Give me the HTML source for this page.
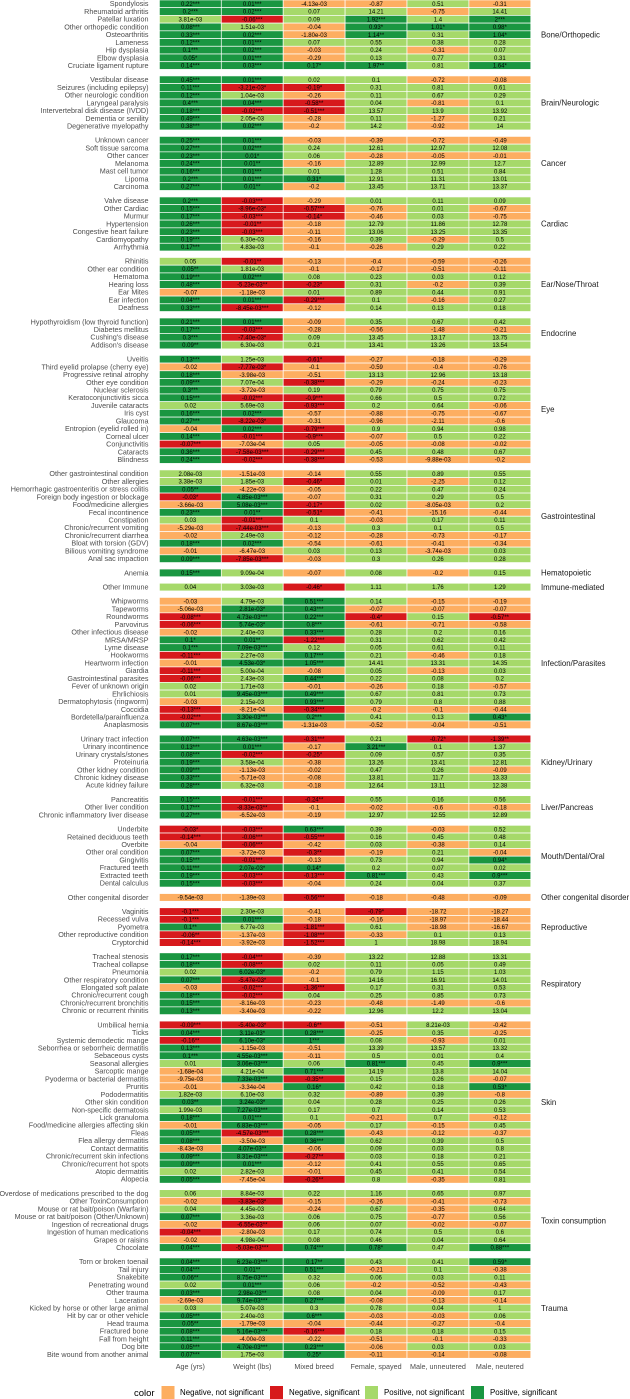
<!DOCTYPE html>
<html lang="en">
<head>
<meta charset="utf-8">
<title>Regression results heatmap</title>
<style>
html,body{margin:0;padding:0;background:#fff;width:630px;height:1399px;overflow:hidden}
svg{display:block;font-family:"Liberation Sans",sans-serif;filter:blur(.3px)}
</style>
</head>
<body>
<svg id="chart" xmlns="http://www.w3.org/2000/svg" width="630" height="1399" viewBox="0 0 630 1399">
  <g id="cells"></g>
  <g id="row-labels"></g>
  <g id="facet-labels"></g>
  <g id="col-labels"></g>
  <g id="legend">
    <text x="134" y="1396" font-size="9.5" fill="#000">color</text>
    <rect x="161.5" y="1386" width="13" height="13" fill="#fdae61"/>
    <text x="180" y="1395" font-size="7.9" fill="#000">Negative, not significant</text>
    <rect x="270" y="1386" width="13" height="13" fill="#d7191c"/>
    <text x="289" y="1395" font-size="7.9" fill="#000">Negative, significant</text>
    <rect x="365" y="1386" width="13" height="13" fill="#a6d96a"/>
    <text x="384" y="1395" font-size="7.9" fill="#000">Positive, not significant</text>
    <rect x="471" y="1386" width="13" height="13" fill="#1a9641"/>
    <text x="490" y="1395" font-size="7.9" fill="#000">Positive, significant</text>
  </g>
</svg>
<script>
const columnLabels = ["Age (yrs)","Weight (lbs)","Mixed breed","Female, spayed","Male, unneutered","Male, neutered"];
const groupNames = ["Bone/Orthopedic","Brain/Neurologic","Cancer","Cardiac","Ear/Nose/Throat","Endocrine","Eye","Gastrointestinal","Hematopoietic","Immune-mediated","Infection/Parasites","Kidney/Urinary","Liver/Pancreas","Mouth/Dental/Oral","Other congenital disorder","Reproductive","Respiratory","Skin","Toxin consumption","Trauma"];
const groupSizes = [9,7,7,7,7,4,14,12,1,1,17,7,3,8,1,5,8,21,8,13];
const rowLabels = [
"Spondylosis","Rheumatoid arthritis","Patellar luxation","Other orthopedic condition","Osteoarthritis","Lameness","Hip dysplasia","Elbow dysplasia","Cruciate ligament rupture",
"Vestibular disease","Seizures (including epilepsy)","Other neurologic condition","Laryngeal paralysis","Intervertebral disk disease (IVDD)","Dementia or senility","Degenerative myelopathy",
"Unknown cancer","Soft tissue sarcoma","Other cancer","Melanoma","Mast cell tumor","Lipoma","Carcinoma",
"Valve disease","Other Cardiac","Murmur","Hypertension","Congestive heart failure","Cardiomyopathy","Arrhythmia",
"Rhinitis","Other ear condition","Hematoma","Hearing loss","Ear Mites","Ear infection","Deafness",
"Hypothyroidism (low thyroid function)","Diabetes mellitus","Cushing's disease","Addison's disease",
"Uveitis","Third eyelid prolapse (cherry eye)","Progressive retinal atrophy","Other eye condition","Nuclear sclerosis","Keratoconjunctivitis sicca","Juvenile cataracts","Iris cyst","Glaucoma","Entropion (eyelid rolled in)","Corneal ulcer","Conjunctivitis","Cataracts","Blindness",
"Other gastrointestinal condition","Other allergies","Hemorrhagic gastroenteritis or stress colitis","Foreign body ingestion or blockage","Food/medicine allergies","Fecal incontinence","Constipation","Chronic/recurrent vomiting","Chronic/recurrent diarrhea","Bloat with torsion (GDV)","Bilious vomiting syndrome","Anal sac impaction",
"Anemia",
"Other Immune",
"Whipworms","Tapeworms","Roundworms","Parvovirus","Other infectious disease","MRSA/MRSP","Lyme disease","Hookworms","Heartworm infection","Giardia","Gastrointestinal parasites","Fever of unknown origin","Ehrlichiosis","Dermatophytosis (ringworm)","Coccidia","Bordetella/parainfluenza","Anaplasmosis",
"Urinary tract infection","Urinary incontinence","Urinary crystals/stones","Proteinuria","Other kidney condition","Chronic kidney disease","Acute kidney failure",
"Pancreatitis","Other liver condition","Chronic inflammatory liver disease",
"Underbite","Retained deciduous teeth","Overbite","Other oral condition","Gingivitis","Fractured teeth","Extracted teeth","Dental calculus",
"Other congenital disorder",
"Vaginitis","Recessed vulva","Pyometra","Other reproductive condition","Cryptorchid",
"Tracheal stenosis","Tracheal collapse","Pneumonia","Other respiratory condition","Elongated soft palate","Chronic/recurrent cough","Chronic/recurrent bronchitis","Chronic or recurrent rhinitis",
"Umbilical hernia","Ticks","Systemic demodectic mange","Seborrhea or seborrheic dermatitis","Sebaceous cysts","Seasonal allergies","Sarcoptic mange","Pyoderma or bacterial dermatitis","Pruritis","Pododermatitis","Other skin condition","Non-specific dermatosis","Lick granuloma","Food/medicine allergies affecting skin","Fleas","Flea allergy dermatitis","Contact dermatitis","Chronic/recurrent skin infections","Chronic/recurrent hot spots","Atopic dermatitis","Alopecia",
"Overdose of medications prescribed to the dog","Other ToxinConsumption","Mouse or rat bait/poison (Warfarin)","Mouse or rat bait/poison (Other/Unknown)","Ingestion of recreational drugs","Ingestion of human medications","Grapes or raisins","Chocolate",
"Torn or broken toenail","Tail injury","Snakebite","Penetrating wound","Other trauma","Laceration","Kicked by horse or other large animal","Hit by car or other vehicle","Head trauma","Fractured bone","Fall from height","Dog bite","Bite wound from another animal"
];
const cellValues = [
[0.22,0.01,-4.13e-3,-0.87,0.51,-0.31],
[0.2,0.02,0.07,14.21,-0.75,14.41],
[3.81e-3,-0.06,0.09,1.92,1.4,2],
[0.08,1.51e-3,-0.04,0.93,1.01,0.98],
[0.33,0.02,-1.8e-3,1.14,0.31,1.04],
[0.12,0.01,0.07,0.55,0.38,0.28],
[0.1,0.02,-0.03,0.24,-0.31,0.07],
[0.05,0.01,-0.29,0.13,0.77,0.31],
[0.14,0.03,0.17,1.97,0.81,1.64],
[0.45,0.01,0.02,0.1,-0.72,-0.08],
[0.11,-3.21e-3,-0.19,0.31,0.81,0.61],
[0.12,1.04e-3,-0.26,0.11,0.67,0.29],
[0.4,0.04,-0.58,0.04,-0.81,0.1],
[0.18,-0.02,-0.51,13.57,13.9,13.92],
[0.49,2.05e-3,-0.28,0.11,-1.27,0.21],
[0.38,0.02,-0.2,14.2,-0.92,14],
[0.25,0.01,-0.03,-0.39,-0.72,-0.49],
[0.27,0.02,0.24,12.61,12.97,12.08],
[0.23,0.01,0.06,-0.28,-0.05,-0.01],
[0.24,0.01,-0.16,12.89,12.99,12.7],
[0.16,0.01,0.01,1.28,0.51,0.84],
[0.2,0.01,0.31,12.91,11.31,13.01],
[0.27,0.01,-0.2,13.45,13.71,13.37],
[0.2,-0.03,-0.29,0.01,0.11,0.09],
[0.15,-8.96e-3,-0.57,-0.76,0.01,-0.67],
[0.17,-0.03,-0.14,-0.46,0.03,-0.75],
[0.26,-0.01,-0.18,12.79,11.86,12.78],
[0.23,-0.03,-0.11,13.06,13.25,13.35],
[0.19,6.3e-3,-0.16,0.39,-0.29,0.5],
[0.17,4.83e-3,-0.1,-0.26,0.29,0.22],
[0.05,-0.01,-0.13,-0.4,-0.59,-0.26],
[0.05,1.81e-3,-0.1,-0.17,-0.51,-0.11],
[0.19,0.02,0.08,0.23,0.03,0.12],
[0.48,-5.23e-3,-0.23,0.31,-0.2,0.39],
[-0.07,-1.18e-3,0.01,0.89,0.44,0.91],
[0.04,0.01,-0.29,0.1,-0.16,0.27],
[0.33,-8.45e-3,-0.12,0.14,0.13,0.18],
[0.21,0.01,-0.09,0.35,0.67,0.42],
[0.17,-0.03,-0.28,-0.56,-1.48,-0.21],
[0.3,-7.4e-3,0.09,13.45,13.17,13.75],
[0.09,6.3e-3,0.21,13.41,13.26,13.54],
[0.13,1.25e-3,-0.61,-0.27,-0.18,-0.29],
[-0.02,-7.77e-3,-0.1,-0.59,-0.4,-0.76],
[0.18,-3.98e-3,-0.51,13.13,12.96,13.18],
[0.09,7.07e-4,-0.38,-0.29,-0.24,-0.23],
[0.3,-3.72e-3,0.19,0.79,0.75,0.75],
[0.15,-0.02,-0.9,0.66,0.5,0.72],
[0.02,5.69e-3,-0.93,0.2,0.64,-0.06],
[0.16,0.02,-0.57,-0.88,-0.75,-0.67],
[0.27,-8.22e-3,-0.31,-0.96,-2.11,-0.6],
[-0.04,0.02,-0.79,0.9,0.94,0.98],
[0.14,-0.01,-0.9,-0.07,0.5,0.22],
[-0.07,-7.03e-4,0.05,-0.05,-0.08,-0.02],
[0.36,-7.58e-3,-0.29,0.45,0.48,0.67],
[0.24,-0.02,-0.38,-0.53,-9.88e-3,-0.2],
[2.08e-3,-1.51e-3,-0.14,0.55,0.89,0.55],
[3.38e-3,1.85e-3,-0.46,0.01,-2.25,0.12],
[0.05,-4.22e-3,-0.05,0.22,0.47,0.24],
[-0.03,4.85e-3,-0.07,0.31,0.29,0.5],
[-3.66e-3,5.08e-3,-0.17,0.02,-8.05e-3,0.2],
[0.23,0.01,-0.51,-0.41,-15.16,-0.44],
[0.03,-0.01,0.1,-0.03,0.17,0.11],
[-5.29e-3,-7.44e-3,-0.13,0.3,0.1,0.5],
[-0.02,2.49e-3,-0.12,-0.28,-0.73,-0.17],
[0.18,0.02,-0.54,-0.61,-0.41,-0.34],
[-0.01,-6.47e-3,0.03,0.13,-3.74e-3,0.03],
[0.09,-7.85e-3,-0.03,0.3,0.26,0.28],
[0.15,9.09e-4,-0.07,0.08,-0.2,0.15],
[0.04,3.03e-3,-0.46,1.11,1.76,1.29],
[-0.03,4.79e-3,0.51,0.14,-0.15,-0.19],
[-5.06e-3,2.81e-3,0.43,-0.07,-0.07,-0.07],
[-0.08,4.73e-3,0.22,-0.4,0.15,-0.57],
[-0.06,5.74e-3,0.8,-0.61,-0.71,-0.58],
[-0.02,2.4e-3,0.33,0.28,0.2,0.16],
[0.1,0.01,-1.22,0.31,0.62,0.42],
[0.1,7.09e-3,0.12,0.05,0.61,0.11],
[-0.11,2.27e-3,0.17,0.21,-0.46,0.18],
[-0.01,4.53e-3,1.05,14.41,13.31,14.35],
[-0.11,5e-4,-0.08,0.05,-0.13,0.03],
[-0.06,2.43e-3,0.44,0.22,0.08,0.2],
[0.02,1.71e-3,-0.01,-0.26,0.18,-0.57],
[0.01,9.45e-3,0.49,0.67,0.81,0.73],
[-0.03,2.15e-3,0.93,0.79,0.8,0.88],
[-0.13,-8.21e-4,-0.34,-0.2,-0.1,-0.44],
[-0.02,3.3e-3,0.2,0.41,0.13,0.43],
[0.07,8.67e-3,-1.31e-3,-0.52,-0.04,-0.51],
[0.07,4.63e-3,-0.31,0.21,-0.72,-1.39],
[0.13,0.01,-0.17,3.21,0.1,1.37],
[0.08,-0.02,-0.25,0.09,0.57,0.35],
[0.19,3.58e-4,-0.38,13.26,13.41,12.81],
[0.09,-1.13e-3,-0.02,0.47,0.26,-0.09],
[0.33,-5.71e-3,-0.08,13.81,11.7,13.33],
[0.28,6.32e-3,-0.18,12.64,13.11,12.38],
[0.15,-0.01,-0.24,0.55,0.16,0.56],
[0.17,-8.33e-3,-0.1,-0.02,-0.6,-0.18],
[0.27,-6.52e-3,-0.19,12.97,12.55,12.89],
[-0.03,-0.03,0.63,0.39,-0.03,0.52],
[-0.14,-0.06,-0.55,0.16,0.45,0.48],
[-0.04,-0.06,-0.42,0.03,-0.38,0.14],
[0.07,-3.72e-3,-0.3,-0.19,0.21,-0.04],
[0.15,-0.01,-0.13,0.73,0.94,0.94],
[0.11,2.07e-3,0.14,0.2,0.07,0.02],
[0.19,-0.03,-0.13,0.81,0.43,0.9],
[0.15,-0.03,-0.04,0.24,0.04,0.37],
[-9.54e-3,-1.39e-3,-0.56,-0.18,-0.48,-0.09],
[-0.1,2.3e-3,-0.41,-0.79,-18.72,-18.27],
[-0.1,0.01,-0.18,-0.16,-18.97,-18.44],
[0.1,6.77e-3,-1.81,0.61,-18.98,-16.67],
[-0.06,-1.37e-3,-1.08,-0.33,0.1,0.13],
[-0.14,-3.92e-3,-1.52,1,18.98,18.94],
[0.17,-0.04,-0.39,13.22,12.88,13.31],
[0.18,-0.08,0.02,0.11,0.05,0.49],
[0.02,6.02e-3,-0.2,0.79,1.15,1.03],
[0.07,-5.47e-3,-0.1,14.16,16.91,14.01],
[-0.03,-0.02,-1.36,0.17,0.31,0.53],
[0.18,-0.02,0.04,0.25,0.85,0.73],
[0.15,-8.16e-3,-0.23,-0.48,-1.49,-0.6],
[0.13,-3.4e-3,-0.22,12.96,12.2,13.04],
[-0.09,-5.4e-3,-0.6,-0.51,8.21e-3,-0.42],
[0.04,3.11e-3,0.28,-0.25,0.35,-0.25],
[-0.16,6.1e-3,1,0.08,-0.93,0.01],
[0.13,-1.15e-3,-0.51,13.39,13.57,13.32],
[0.1,4.55e-3,-0.11,0.5,0.01,0.4],
[0.01,3.06e-3,0.06,0.81,0.45,0.9],
[-1.68e-4,4.21e-4,0.71,14.19,13.8,14.04],
[-9.75e-3,7.33e-3,-0.35,0.15,0.26,-0.07],
[-0.01,-3.34e-4,0.16,0.42,0.18,0.53],
[1.82e-3,6.1e-3,0.32,-0.89,0.39,-0.8],
[0.03,3.24e-3,0.04,0.28,0.25,0.26],
[1.99e-3,7.27e-3,0.17,0.7,0.14,0.53],
[0.18,0.01,0.1,-0.21,0.7,-0.12],
[-0.01,6.83e-3,-0.05,0.17,-0.15,0.45],
[0.05,-4.57e-3,0.28,-0.43,-0.12,-0.37],
[0.08,-3.5e-3,0.36,0.62,0.39,0.5],
[-8.43e-3,4.07e-3,-0.06,0.09,0.03,0.8],
[0.09,8.31e-3,-0.27,0.03,0.18,0.21],
[0.09,0.01,-0.12,0.41,0.55,0.65],
[0.02,2.82e-3,-0.01,0.45,0.41,0.54],
[0.05,-7.45e-4,-0.26,0.8,-0.35,0.81],
[0.06,8.84e-3,0.22,1.16,0.65,0.97],
[-0.02,-3.83e-3,-0.15,-0.26,-0.41,-0.73],
[0.04,4.45e-3,-0.24,0.67,-0.35,0.64],
[0.07,3.36e-3,0.06,0.75,-0.77,0.56],
[-0.02,-6.55e-3,0.06,0.07,-0.02,-0.07],
[-0.04,-2.8e-3,0.17,0.74,0.5,0.6],
[-0.02,4.98e-4,0.08,0.46,0.04,0.64],
[0.04,-5.03e-3,0.74,0.78,0.47,0.88],
[0.04,6.23e-3,0.17,0.43,0.41,0.59],
[0.04,0.01,0.51,-0.21,0.1,-0.38],
[0.06,8.75e-3,0.32,0.06,0.03,0.11],
[0.02,0.01,0.06,-0.2,-0.52,-0.43],
[0.03,2.98e-3,0.08,0.04,-0.09,0.17],
[-2.69e-3,9.74e-3,0.27,-0.08,-0.13,-0.14],
[0.03,5.07e-3,0.3,0.78,0.04,1],
[0.05,2.4e-3,0.6,-0.03,-0.03,0.06],
[0.05,-1.79e-3,-0.04,-0.44,-0.27,-0.4],
[0.08,5.16e-3,-0.16,0.18,0.18,0.15],
[0.11,-4e-3,-0.22,-0.51,-0.1,-0.33],
[0.05,4.7e-3,0.23,-0.06,0.03,0.03],
[0.07,1.75e-3,0.25,-0.11,-0.14,-0.08]
];
const cellStars = [
"330000","330000","030303","300111","330201","330000","330000","130000","331201",
"330000","311000","300000","332000","333000","300000","330000",
"330000","330000","310000","320000","330000","331000","320000",
"330000","313000","331000","320000","330000","300000","300000",
"020000","200000","330000","321000","000000","333000","330000",
"330000","330000","310000","200000",
"301000","010000","300000","303000","300000","333000","003000","330000","310000","033000","333000","300000","333000","333000",
"000000","001000","200000","130000","031000","321000","030000","030000","000000","330000","000000","330000",
"300000",
"001000",
"003000","013000","333102","313000","003000","123000","330000","303000","013000","300000","303000","000000","033000","003000","303000","333001","330000",
"333012","330300","331000","300000","300000","300000","300000",
"332000","320000","300000",
"133000","333000","030000","302000","330001","311000","333303","330000",
"003000",
"300100","330000","203000","203000","303000",
"330000","330000","010000","310000","033000","330000","300000","300000",
"312000","313000","213000","300000","330000","030303","003000","032000","001001","000000","210000","030000","330000","030000","333000","303000","020000","332000","330000","000000","302000",
"000000","010000","000000","300000","020000","300000","000000","333103",
"332001","323000","230000","030000","320000","033000","000000","303000","200000","333000","300000","333000","301000"
];

const colFirstLeft = 159.4;
const colStep = 61.9;
const rowStep = 7.72;
const groupGapExtra = 6.48;
const firstRowTop = -0.05;
const palette = {negNot:"#fdae61",negSig:"#d7191c",posNot:"#a6d96a",posSig:"#1a9641"};
const NS = "http://www.w3.org/2000/svg";

function xCol(j){ return colFirstLeft + j * colStep; }
function yRow(rowIndex){
  let remaining = rowIndex, gaps = 0;
  for (let g = 0; g < groupSizes.length; g++){
    if (remaining < groupSizes[g]) break;
    remaining -= groupSizes[g];
    gaps++;
  }
  return firstRowTop + rowIndex * rowStep + gaps * groupGapExtra;
}
function fmtValue(v){
  if (v !== 0 && Math.abs(v) < 0.01){
    return v.toExponential(2).replace(/e([+-])(\d)$/, "e$10$2");
  }
  return String(v);
}
function cellColor(v, stars){
  if (v < 0) return stars > 0 ? palette.negSig : palette.negNot;
  return stars > 0 ? palette.posSig : palette.posNot;
}
function slug(s){ return s.toLowerCase().replace(/[^a-z0-9]+/g, "-").replace(/^-|-$/g, ""); }
function mk(tag, attrs, parent, text){
  const el = document.createElementNS(NS, tag);
  for (const k in attrs) el.setAttribute(k, attrs[k]);
  if (text !== undefined) el.textContent = text;
  parent.appendChild(el);
  return el;
}

const cellsG = document.getElementById("cells");
const rowsG = document.getElementById("row-labels");
const facetsG = document.getElementById("facet-labels");
const colsG = document.getElementById("col-labels");

rowLabels.forEach(function(label, i){
  const y = yRow(i);
  const rowText = mk("text", {x:148.5, y:y + rowStep/2 + 2.4, "text-anchor":"end", "font-size":7.2, fill:"#4d4d4d"}, rowsG, label);
  
  
  cellValues[i].forEach(function(v, j){
    const stars = Number(cellStars[i].charAt(j));
    const rect = mk("rect", {x:xCol(j), y:y, width:colStep, height:rowStep, fill:cellColor(v, stars), stroke:"#fff", "stroke-width":0.7}, cellsG);
    
    
    const txt = mk("text", {x:xCol(j) + colStep/2, y:y + rowStep/2 + 2.1, "text-anchor":"middle", "font-size":6, fill:"#000"}, cellsG, fmtValue(v) + "*".repeat(stars));
    
    
  });
});

let rowCursor = 0;
groupNames.forEach(function(name, g){
  const top = yRow(rowCursor);
  const bottom = yRow(rowCursor + groupSizes[g] - 1) + rowStep;
  const facet = mk("text", {x:541, y:(top + bottom)/2 + 2.7, "font-size":7.85, fill:"#1a1a1a"}, facetsG, name);
  
  
  rowCursor += groupSizes[g];
});

columnLabels.forEach(function(name, j){
  const t = mk("text", {x:xCol(j) + colStep/2, y:1369, "text-anchor":"middle", "font-size":7.2, fill:"#4d4d4d"}, colsG, name);
  
  
});
</script>
</body>
</html>
